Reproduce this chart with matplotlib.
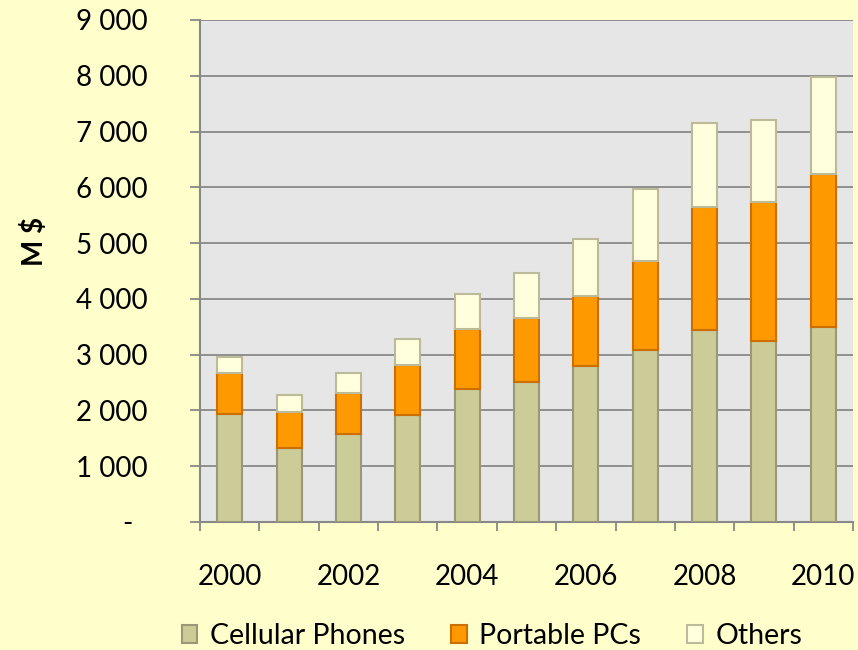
import numpy as np
import matplotlib.pyplot as plt
from matplotlib.ticker import FuncFormatter

years = [2000, 2001, 2002, 2003, 2004, 2005, 2006, 2007, 2008, 2009, 2010]
cellular = [1940, 1330, 1580, 1920, 2380, 2510, 2800, 3080, 3440, 3245, 3495]
portable = [730, 640, 735, 895, 1075, 1145, 1255, 1595, 2205, 2490, 2740]
others = [285, 305, 360, 465, 625, 805, 1020, 1290, 1505, 1470, 1740]

plt.rcParams['font.family'] = ['Lato', 'DejaVu Sans']

fig = plt.figure(figsize=(8.58, 6.5), dpi=100)
fig.set_facecolor('#FFFFCC')
ax = fig.add_axes([200 / 858, 128 / 650, 653 / 858, 502 / 650])
ax.set_facecolor('#E6E6E6')

x = np.arange(len(years))
w = 0.42
cell = np.array(cellular)
port = np.array(portable)
oth = np.array(others)

ax.bar(x, cell, w, color='#CCCC99', edgecolor='#999977', linewidth=1.5,
       label='Cellular Phones', zorder=3)
ax.bar(x, port, w, bottom=cell, color='#FF9900', edgecolor='#CC6E00',
       linewidth=1.5, label='Portable PCs', zorder=3)
ax.bar(x, oth, w, bottom=cell + port, color='#FFFFDD', edgecolor='#BBBB99',
       linewidth=1.5, label='Others', zorder=3)

ax.set_xlim(-0.5, len(years) - 0.5)
ax.set_ylim(0, 9000)
ax.set_yticks(np.arange(0, 9001, 1000))


def fmt(v, pos):
    # zero shown as a dash, like the accounting format
    if v == 0:
        return '-  '
    return '{:,.0f}'.format(v).replace(',', ' ')


ax.yaxis.set_major_formatter(FuncFormatter(fmt))
ax.grid(axis='y', color='#888888', linewidth=1.3, zorder=1)
ax.tick_params(axis='y', length=7, width=1.3, color='#888888', pad=31,
               labelsize=20)

ax.set_xticks(x[::2])
ax.set_xticklabels([str(y) for y in years[::2]])
ax.set_xticks(np.arange(-0.5, len(years), 1), minor=True)
ax.tick_params(axis='x', which='major', length=0, pad=30, labelsize=20)
ax.tick_params(axis='x', which='minor', length=6.5, width=1.3,
               color='#888888', direction='out')

for s in ['top', 'right']:
    ax.spines[s].set_visible(False)
for s in ['left', 'bottom']:
    ax.spines[s].set_color('#888888')
    ax.spines[s].set_linewidth(1.5)

fig.text(35 / 858, 1 - 241 / 650, 'M $', rotation=90, fontsize=20,
         fontweight='bold', ha='center', va='center')

fig.legend(loc='center', bbox_to_anchor=(492 / 858, 1 - 636 / 650), ncol=3,
           frameon=False, fontsize=20.5, handlelength=0.55, handleheight=0.55,
           handletextpad=0.45, columnspacing=1.6)

fig.savefig('out.png', dpi=100, facecolor=fig.get_facecolor())
